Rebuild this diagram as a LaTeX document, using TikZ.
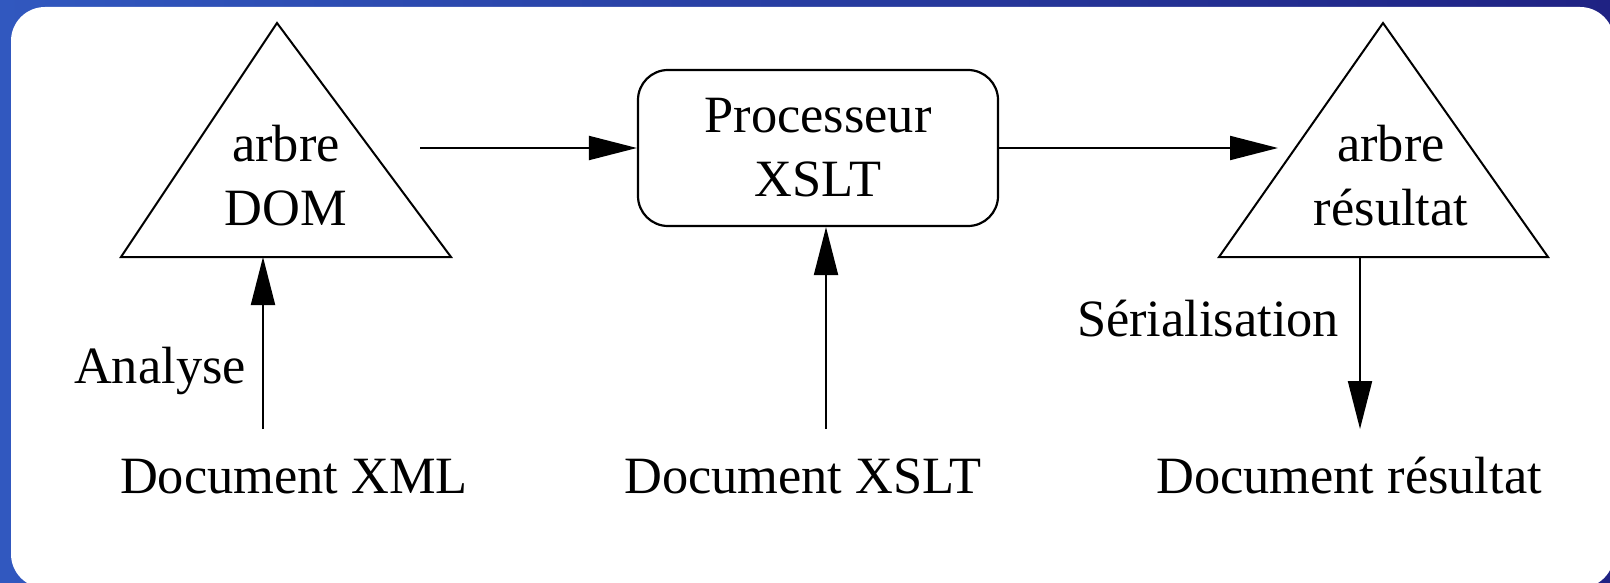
\documentclass[tikz,border=0pt]{standalone}
\usepackage{fontspec}
\setmainfont{Liberation Serif}
\usetikzlibrary{arrows.meta,positioning,calc}
\definecolor{frameleft}{HTML}{3158BF}
\definecolor{frameright}{HTML}{1F2283}
\definecolor{ink}{HTML}{000000}
\newcommand{\diagfont}{\fontsize{26.2}{32}\selectfont}
\tikzset{
  >={Triangle[length=24pt,width=12pt]},
  every node/.style={font=\diagfont,text=ink},
  tree/.style={draw=ink,line width=1pt,line join=miter},
  txt/.style={align=center,inner sep=0pt},
  proc/.style={draw=ink,line width=1.1pt,rounded corners=15pt,minimum width=180pt,minimum height=78pt,align=center},
  lbl/.style={inner sep=0pt,anchor=base},
  arrow/.style={->,line width=1pt,draw=ink},
}

\begin{document}
\begin{tikzpicture}[x=0.5pt,y=-0.5pt]
  % frame
  \useasboundingbox (0,0) rectangle (1610,583);
  \shade[left color=frameleft,right color=frameright] (0,0) rectangle (1610,583);
  \fill[white,rounded corners=17pt] (11,7) rectangle (1614,588);

  % trees
  \coordinate (domT) at (277,23); \coordinate (domL) at (121,257); \coordinate (domR) at (451,257);
  \draw[tree] (domL) -- (domT) -- (domR) -- cycle;
  \node[txt] (dom) at (286,176) {arbre\\DOM};

  \coordinate (resT) at (1383,23); \coordinate (resL) at (1219,257); \coordinate (resR) at (1548,257);
  \draw[tree] (resL) -- (resT) -- (resR) -- cycle;
  \node[txt] (res) at (1391,176) {arbre\\résultat};

  \node[proc] (xslt) at (818,148) {Processeur\\XSLT};

  % documents
  \node[lbl] (xml) at (294,493) {Document XML};
  \node[lbl] (xsl) at (803,493) {Document XSLT};
  \node[lbl] (out) at (1349,493) {Document résultat};
  \node[lbl] (parse) at (160,383) {Analyse};
  \node[lbl] (serial) at (1208,336) {Sérialisation};

  % connectors
  \coordinate (domOut) at (420,148);
  \coordinate (resIn) at (1278,148);
  \coordinate (xmlUp) at (263,429);
  \coordinate (xslUp) at (826,429);
  \coordinate (outDown) at (1360,429);
  \draw[arrow] (domOut) -- (xslt.west);
  \draw[arrow] (xslt.east) -- (resIn);
  \draw[arrow] (xmlUp) -- (xmlUp |- domL);
  \draw[arrow] (xslUp) -- (xslUp |- xslt.south);
  \draw[arrow] (outDown |- resL) -- (outDown);
\end{tikzpicture}
\end{document}
